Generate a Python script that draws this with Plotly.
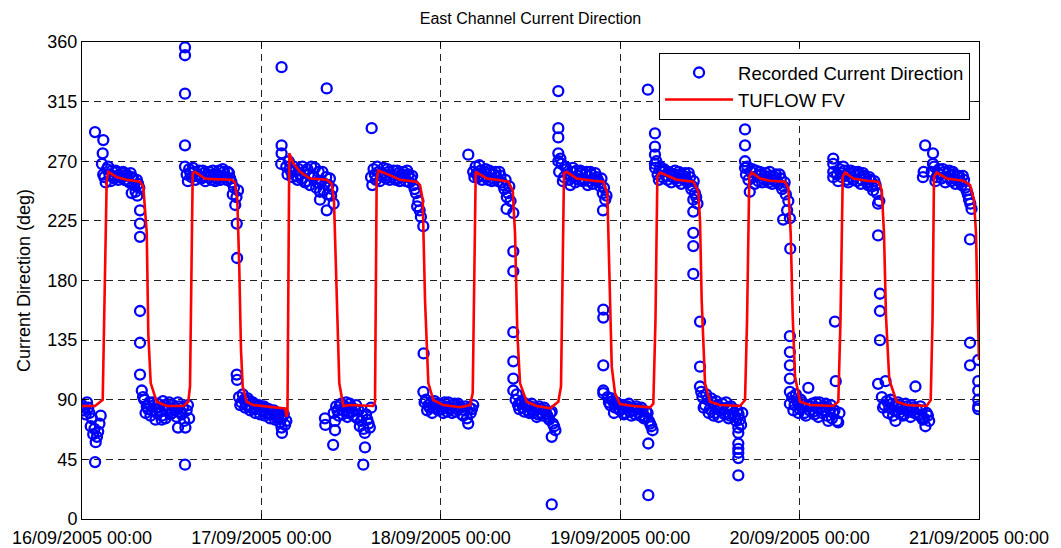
import pandas as pd
import plotly.graph_objects as go

BASE = pd.Timestamp("2005-09-16 00:00")

# ---- TUFLOW FV modelled direction (hours since 16/09/2005 00:00, degrees)
model_hours = [0.0, 1.74, 2.77, 3.3, 3.52, 4.64, 5.98, 7.76, 8.20, 8.66, 8.87, 9.19, 9.99, 11.33,
               13.55, 14.22, 14.45, 14.81, 15.12, 16.45, 17.52, 20.03, 20.47, 20.78, 21.04, 21.27,
               21.50, 22.03, 22.92, 25.15, 27.16, 27.38, 27.49, 27.73, 28.27, 29.16, 30.50, 32.74,
               33.40, 33.71, 34.08, 34.42, 34.96, 35.85, 38.97, 39.20, 39.42, 39.64, 41.65, 42.54,
               44.78, 45.22, 45.58, 45.89, 46.33, 47.00, 48.33, 50.57, 51.91, 52.27, 52.67, 54.14,
               55.48, 57.03, 57.62, 57.93, 58.24, 58.60, 59.49, 60.83, 62.61, 63.72, 64.08, 64.48,
               64.84, 66.18, 68.40, 69.74, 70.28, 70.54, 70.87, 71.31, 71.97, 73.75, 75.99, 76.43,
               76.72, 76.97, 77.33, 79.56, 81.78, 82.45, 82.68, 82.90, 83.35, 84.02, 85.35, 88.03,
               88.70, 88.97, 89.27, 89.59, 90.70, 92.04, 94.05, 94.49, 94.81, 95.08, 95.39, 96.06,
               97.40, 100.51, 101.18, 101.47, 101.77, 102.07, 103.18, 104.98, 106.53, 106.99,
               107.29, 107.56, 108.00, 108.99, 110.33, 113.00, 113.54, 113.78, 113.98, 114.34,
               115.68, 117.90, 118.80, 119.33, 119.60, 119.78, 120.0]
model_deg = [85.3, 85.3, 90, 255, 262, 258, 256, 254.6, 251, 216, 140, 102.6, 88.5, 85.3,
             85.3, 88.5, 100, 261, 262, 257, 256.5, 256, 254, 240.8, 190, 127.5,
             99.9, 88.5, 86, 84.8, 83.5, 77.2, 80, 276, 268.4, 262, 257, 256,
             253, 240.8, 165, 102.4, 85.3, 86, 85.3, 88.5, 256, 262.9, 258.4, 256,
             254.6, 252, 240.8, 165, 102.6, 89.8, 86, 84.3, 86, 95, 262, 257,
             256, 254.6, 248, 215.6, 140, 102.4, 88.5, 85.3, 83.5, 88.5, 100, 261,
             262, 257, 255.3, 254.6, 245.8, 190.4, 115, 94.8, 86.8, 85.3, 84.3, 87,
             150, 258.4, 261.5, 256, 254.6, 247, 225, 165, 102.4, 88.5, 86, 85.3,
             89.8, 150, 258.4, 261.5, 257, 255.3, 254.6, 249.5, 215.6, 152.7, 107.4, 88.5,
             86, 85.3, 88.5, 150, 258.4, 261.5, 257, 255.3, 254.6, 248.3,
             215.6, 152.7, 104.9, 88.5, 86, 85.3, 89.8, 150, 258.4, 261.5,
             257, 255.3, 252, 240.8, 215.6, 165, 120]

# ---- Recorded current direction: blocks of 10-minute samples
block_start_h = [0.0, 2.67, 8.0, 14.0, 21.0, 27.33, 33.67, 38.67, 45.67, 52.33, 58.0,
                 63.83, 70.33, 76.67, 82.67, 88.83, 95.0, 101.0, 107.0, 113.67]
block_deg = [
    [86, 82, 84, 79, 88, 84, 80, 70, 76, 64, 68, 58, 62, 66, 72, 78],
    [268, 260, 258, 254, 264, 266, 260, 255, 263, 259, 257, 263, 262, 256, 259, 258, 261, 262,
     256, 259, 260, 255, 254, 261, 258, 257, 252, 247, 256, 253, 250],
    [97, 92, 90, 80, 85, 83, 88, 78, 82, 88, 86, 75, 80, 87, 84, 81, 78, 89, 86, 76, 82, 84, 88,
     79, 80, 86, 84, 82, 77, 88, 85, 81, 79, 84, 74, 69, 82, 86, 76],
    [260, 255, 264, 261, 258, 265, 262, 256, 259, 260, 263, 258, 257, 263, 261, 255, 258, 260,
     262, 258, 256, 263, 260, 255, 257, 259, 263, 256, 259, 264, 262, 258, 256, 262, 261, 257,
     254, 245, 250, 237, 243],
    [92, 86, 88, 94, 90, 84, 86, 91, 89, 82, 84, 88, 87, 80, 83, 85, 86, 79, 82, 84, 85, 78, 80,
     83, 83, 76, 79, 81, 82, 75, 77, 79, 80, 73, 76, 77, 79, 71, 74],
    [266, 260, 270, 264, 262, 258, 266, 263, 259, 256, 264, 260, 257, 266, 262, 254, 255, 264,
     260, 252, 266, 259, 258, 265, 250, 254, 262, 247, 255, 262, 248, 253, 258, 245, 252, 257,
     244, 249, 238],
    [80, 74, 85, 82, 78, 86, 87, 79, 82, 85, 88, 77, 80, 87, 84, 81, 78, 83, 86, 76, 82, 70, 74,
     78, 68, 65, 79, 75, 72, 69, 84],
    [258, 252, 264, 260, 256, 266, 262, 255, 259, 261, 265, 259, 257, 264, 262, 256, 258, 260,
     263, 257, 256, 263, 261, 255, 258, 260, 262, 258, 255, 263, 260, 254, 257, 259, 252, 249,
     246, 236, 240, 233, 228],
    [96, 88, 90, 82, 86, 84, 88, 80, 84, 89, 87, 84, 82, 87, 86, 83, 80, 88, 85, 81, 88, 84, 83,
     80, 86, 87, 81, 83, 87, 85, 84, 79, 78, 82, 85, 76, 72, 84, 80, 83, 86],
    [262, 258, 266, 261, 258, 267, 263, 256, 259, 262, 264, 258, 256, 263, 261, 255, 257, 260,
     262, 258, 255, 262, 259, 254, 252, 249, 256, 243, 246, 251, 240],
    [90, 94, 86, 83, 88, 89, 84, 81, 87, 86, 82, 80, 85, 87, 80, 82, 84, 77, 79, 85, 83, 80, 78,
     84, 82, 79, 77, 75, 80, 81, 72, 70, 67],
    [262, 272, 268, 255, 258, 266, 264, 260, 256, 252, 262, 265, 258, 254, 263, 259, 256, 263,
     261, 255, 257, 260, 262, 252, 255, 262, 260, 253, 256, 261, 258, 256, 254, 251, 257, 246,
     250, 241, 244],
    [92, 88, 86, 91, 89, 80, 84, 88, 87, 83, 82, 86, 86, 79, 80, 84, 85, 87, 81, 78, 84, 82, 79,
     85, 83, 80, 78, 84, 82, 76, 77, 81, 80, 74, 72, 70, 67],
    [265, 270, 260, 256, 266, 262, 258, 264, 263, 259, 256, 262, 261, 254, 258, 260, 263, 257,
     255, 262, 260, 253, 257, 259, 261, 256, 254, 261, 258, 249, 251, 255, 246, 243, 238],
    [100, 96, 92, 84, 86, 94, 90, 80, 83, 91, 88, 78, 80, 89, 86, 77, 82, 84, 87, 80, 79, 88, 84,
     76, 78, 85, 83, 80, 77, 74, 82, 79, 75, 71, 80],
    [260, 266, 256, 247, 262, 264, 258, 253, 263, 259, 255, 262, 260, 254, 257, 259, 261, 256,
     254, 262, 259, 253, 256, 258, 260, 255, 253, 260, 257, 249, 251, 254, 245, 233, 240],
    [92, 82, 86, 94, 89, 80, 83, 90, 88, 84, 80, 78, 86, 99, 82, 85, 87, 81, 79, 88, 84, 77, 88,
     84, 80, 82, 85, 87, 78, 74, 83, 86, 76, 80, 82, 104, 74, 73, 80],
    [260, 255, 264, 261, 258, 266, 263, 259, 256, 254, 261, 263, 258, 256, 262, 260, 255, 262,
     260, 253, 256, 261, 259, 257, 254, 252, 258, 256, 251, 248, 255, 252, 246, 238, 240],
    [92, 84, 86, 104, 89, 80, 84, 90, 87, 78, 82, 74, 86, 88, 80, 83, 84, 78, 79, 87, 85, 82, 81,
     77, 86, 84, 80, 100, 83, 79, 78, 85, 82, 75, 76, 70, 80, 78, 74],
    [262, 268, 266, 255, 258, 261, 264, 260, 257, 264, 262, 254, 258, 261, 263, 257, 255, 262,
     260, 253, 256, 258, 259, 255, 252, 259, 256, 250, 248, 245, 241, 238, 234],
]

# ---- Recorded readings during slack-water turns (scattered directions)
spike_hours = [1.74, 2.85, 2.77, 1.75, 6.65, 7.4, 7.76, 7.76, 7.76, 7.76, 7.76, 7.76,
               13.78, 12.84, 10.66, 13.78, 13.78, 13.78, 13.78, 13.78, 20.87, 20.7, 20.75,
               20.7, 20.75, 26.7, 26.75, 26.7, 26.7, 26.7, 26.65, 32.74, 32.74, 31.84,
               32.5, 32.55, 33.85, 33.6, 37.86, 37.63, 38.75, 45.66, 45.7, 51.68, 56.8,
               57.7, 57.7, 57.7, 57.7, 57.7, 57.7, 57.7, 62.84, 62.84,
               63.72, 63.72, 63.72, 63.72, 63.72, 69.7, 69.74, 69.74, 69.74, 69.74, 69.74,
               75.76, 75.76, 75.7, 76.65, 76.65, 76.65, 76.65,
               81.78, 81.78, 81.78, 81.78, 81.78, 82.68, 82.68,
               87.8, 87.8, 87.8, 87.8, 87.8, 87.8, 87.8, 88.7, 88.7, 88.7, 88.7,
               93.8, 94.7, 94.75, 94.7, 94.7, 94.7, 94.7, 94.7, 94.7, 100.73,
               100.5, 100.5, 100.5, 100.5, 106.5, 106.75, 106.75, 106.75, 106.5,
               112.8, 113.85, 112.5, 112.6, 118.8, 118.8, 118.8,
               119.9, 119.9, 119.9, 119.9, 119.9, 119.9]
spike_deg = [292, 286, 276, 43, 246, 244, 233, 223, 213, 157, 133, 109,
             41, 69, 75, 356, 350, 321, 282, 266, 248, 223, 197,
             109, 105, 69, 65, 341, 282, 276, 268, 325, 233, 241,
             76, 71, 67, 56, 54, 41, 295, 221, 125, 275, 234,
             231, 202, 187, 141, 119, 106, 97, 62, 11,
             323, 295, 288, 276, 270, 233, 158, 152, 116, 97, 95,
             57, 18, 324, 291, 281, 275, 268,
             241, 232, 216, 206, 185, 149, 115,
             69, 65, 57, 53, 50, 46, 33, 294, 282, 270, 265,
             226, 227, 204, 138, 126, 116, 106, 96, 87, 149,
             272, 268, 262, 258, 214, 170, 157, 135, 102,
             282, 276, 258, 262, 211, 133, 116,
             120, 104, 97, 90, 85, 83]

y_ticks = [0, 45, 90, 135, 180, 225, 270, 315, 360]
x_tick_days = ["2005-09-16", "2005-09-17", "2005-09-18", "2005-09-19", "2005-09-20", "2005-09-21"]
x_tick_text = ["16/09/2005 00:00", "17/09/2005 00:00", "18/09/2005 00:00",
               "19/09/2005 00:00", "20/09/2005 00:00", "21/09/2005 00:00"]

# ---- assemble recorded series
rec_h, rec_v = [], []
for start, vals in zip(block_start_h, block_deg):
    for i, v in enumerate(vals):
        rec_h.append(start + i / 6.0)
        rec_v.append(v)
rec_h += spike_hours
rec_v += spike_deg
rec_t = BASE + pd.to_timedelta(rec_h, unit="h")
mod_t = BASE + pd.to_timedelta(model_hours, unit="h")

FONT = "Arial, Liberation Sans, Helvetica, sans-serif"

fig = go.Figure()
fig.add_trace(go.Scatter(
    x=rec_t, y=rec_v, mode="markers", name="Recorded Current Direction",
    marker=dict(symbol="circle-open", size=10, color="#0000FF",
                line=dict(width=2.3, color="#0000FF")),
))
fig.add_trace(go.Scatter(
    x=mod_t, y=model_deg, mode="lines", name="TUFLOW FV",
    line=dict(color="#FF0000", width=2.6),
))

fig.update_layout(
    width=1061, height=548,
    margin=dict(l=82, r=82, t=42, b=29, autoexpand=False),
    paper_bgcolor="white", plot_bgcolor="white",
    font=dict(family=FONT, size=18, color="black"),
    title=dict(text="East Channel Current Direction", x=0.5, xanchor="center",
               y=1 - 18 / 548, yanchor="middle", yref="container",
               font=dict(family=FONT, size=16, color="black")),
    showlegend=True,
    legend=dict(x=0.99, xanchor="right", y=0.977, yanchor="top",
                bgcolor="white", bordercolor="black", borderwidth=1,
                font=dict(family=FONT, size=18.5, color="black"),
                itemwidth=68, tracegroupgap=0),
)
fig.update_xaxes(
    type="date", automargin=False,
    range=[pd.Timestamp(x_tick_days[0]), pd.Timestamp(x_tick_days[-1])],
    tickmode="array", tickvals=[pd.Timestamp(d) for d in x_tick_days], ticktext=x_tick_text,
    showline=True, linecolor="black", linewidth=1, mirror="ticks",
    ticks="inside", ticklen=5, tickcolor="black", ticklabelstandoff=2,
    showgrid=True, gridcolor="#222222", gridwidth=1, griddash="7px,5px",
    zeroline=False, tickfont=dict(size=18),
)
fig.update_yaxes(
    range=[0, 360], tickmode="array", tickvals=y_ticks, automargin=False,
    showline=True, linecolor="black", linewidth=1, mirror="ticks",
    ticks="inside", ticklen=5, tickcolor="black",
    showgrid=True, gridcolor="#222222", gridwidth=1, griddash="7px,5px",
    zeroline=False, tickfont=dict(size=18),
    title=dict(text="Current Direction (deg)", standoff=12, font=dict(size=18)),
)

fig.write_html("out.html", config={"displayModeBar": False},
               post_script="document.body.style.margin='0px';")
